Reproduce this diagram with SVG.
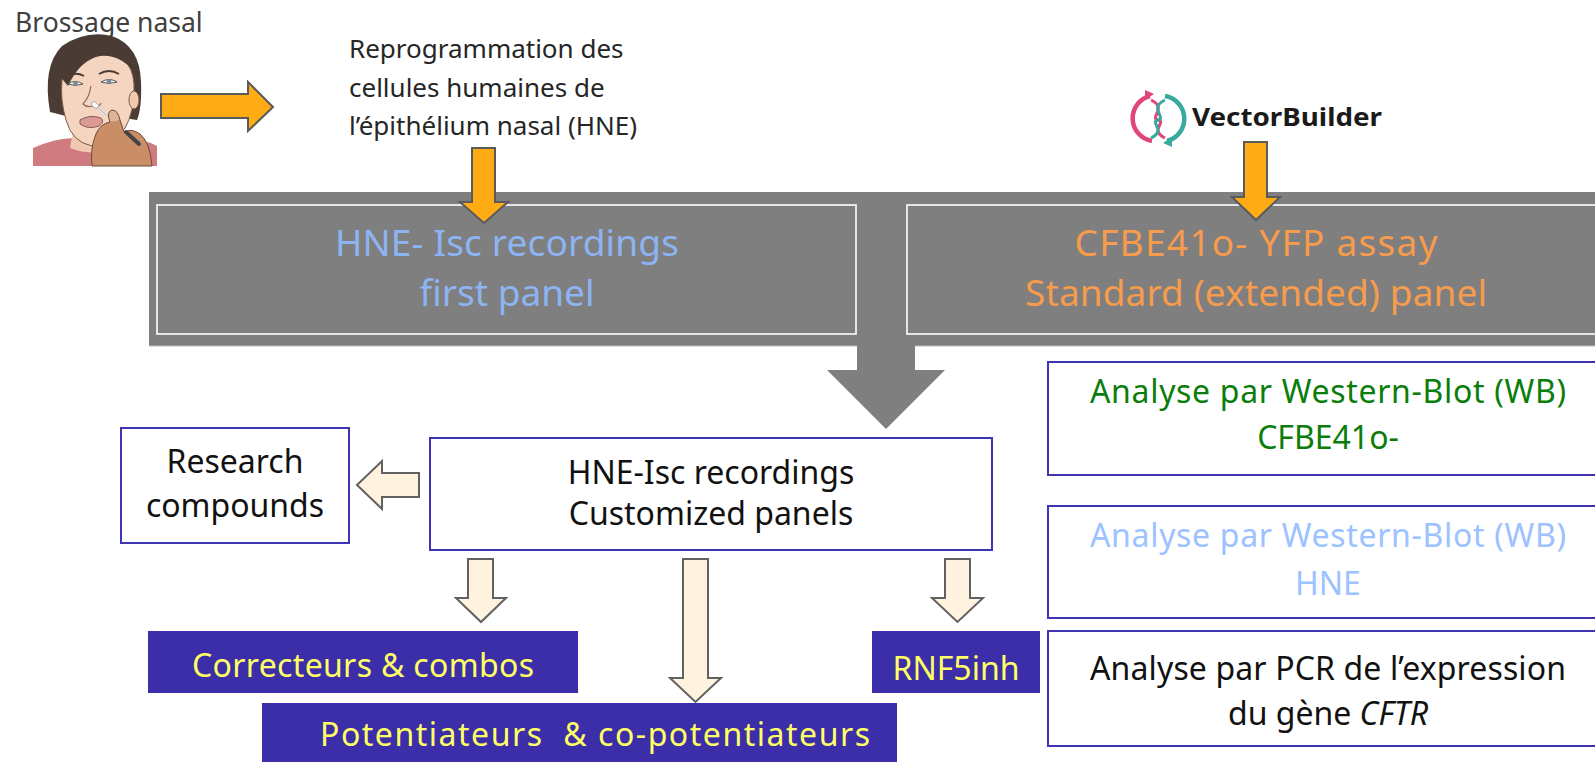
<svg xmlns="http://www.w3.org/2000/svg" width="1595" height="762" viewBox="0 0 1595 762">
  <defs>
    <style>
      text { font-family: "Noto Sans", "Open Sans", "DejaVu Sans", sans-serif; }
      .t32 { font-size: 32px; text-anchor: middle; }
      .band-label { font-size: 37px; text-anchor: middle; }
      .gold { fill: #ffab14; stroke: #5a5a5a; stroke-width: 2; stroke-linejoin: miter; }
      .cream { fill: #fff3df; stroke: #616161; stroke-width: 2; stroke-linejoin: miter; }
      .white-box { fill: #ffffff; stroke: #3f35b2; stroke-width: 2; }
      .dark-box { fill: #3c2ea8; }
      .inner { fill: none; stroke: #ffffff; stroke-width: 1.6; }
      .yellow { fill: #ffff66; }
    </style>
  </defs>

  <rect width="1595" height="762" fill="#ffffff"/>

  <!-- Nasal brushing illustration -->
  <g id="nasal-brushing">
    <text x="15" y="32" font-size="26.5" fill="#404040">Brossage nasal</text>
    <!-- hair behind the head -->
    <path d="M50,112 Q42,66 62,46 Q86,30 112,36 Q140,46 141,82 Q142,108 137,120 L124,118 L66,116 Z" fill="#4b3b35"/>
    <!-- shirt -->
    <path d="M33,148 Q56,138 74,138 L118,138 Q142,138 157,146 L157,166 L33,166 Z" fill="#cf7b80"/>
    <!-- neck -->
    <path d="M74,124 L116,124 L120,146 Q96,158 70,148 Z" fill="#f0c9b0"/>
    <!-- face -->
    <path d="M62,80 Q62,54 97,50 Q132,52 134,84 Q135,112 124,130 Q110,148 92,146 Q72,142 66,120 Q60,100 62,80 Z" fill="#f5d5c0" stroke="#7a5a4a" stroke-width="1"/>
    <!-- fringe -->
    <path d="M58,74 Q66,42 100,38 Q132,40 137,76 Q122,54 100,56 Q80,60 68,86 Z" fill="#4b3b35"/>
    <!-- ear -->
    <ellipse cx="134" cy="100" rx="5" ry="9" fill="#f0c9b0" stroke="#7a5a4a" stroke-width="1"/>
    <!-- eyes and brows -->
    <path d="M68,84 Q75,79 83,84 Q75,87 68,84 Z" fill="#ffffff" stroke="#555" stroke-width="1"/>
    <circle cx="75.5" cy="83.5" r="2.3" fill="#7a8c99"/>
    <path d="M101,82 Q109,77 117,82 Q109,85 101,82 Z" fill="#ffffff" stroke="#555" stroke-width="1"/>
    <circle cx="109" cy="81.5" r="2.3" fill="#7a8c99"/>
    <path d="M66,77 Q75,71 84,76 M99,74 Q109,68 119,74" stroke="#4b3b35" stroke-width="2" fill="none"/>
    <!-- nose -->
    <path d="M91,86 Q89,98 83,104 Q87,108 93,106 Q99,108 101,103" stroke="#8a6a58" stroke-width="1.2" fill="none"/>
    <!-- lips -->
    <path d="M80,120 Q90,114 101,118 Q105,122 99,126 Q88,130 80,124 Z" fill="#d99a94" stroke="#8a5a55" stroke-width="1"/>
    <!-- swab -->
    <line x1="95" y1="105" x2="133" y2="139" stroke="#e8e8e8" stroke-width="3"/>
    <line x1="95" y1="105" x2="133" y2="139" stroke="#888888" stroke-width="0.6"/>
    <ellipse cx="95" cy="105" rx="4" ry="2.6" fill="#ffffff" stroke="#999" stroke-width="0.8" transform="rotate(42 95 105)"/>
    <!-- hand -->
    <path d="M92,166 Q90,148 96,134 Q100,124 110,122 Q114,116 120,120 L124,132 Q132,128 140,134 Q150,142 152,166 Z" fill="#c98e66" stroke="#6b4a3a" stroke-width="1"/>
    <path d="M110,122 Q106,112 112,110 Q118,110 120,120" fill="#e0b494" stroke="#6b4a3a" stroke-width="1"/>
    <line x1="126" y1="132" x2="139" y2="144" stroke="#444444" stroke-width="4" stroke-linecap="round"/>
  </g>

  <!-- Reprogramming note -->
  <g id="reprogrammation">
    <text x="349" y="58" font-size="26" fill="#262626">Reprogrammation des</text>
    <text x="349" y="97" font-size="26" fill="#262626">cellules humaines de</text>
    <text x="349" y="135" font-size="26" fill="#262626">l’épithélium nasal (HNE)</text>
  </g>

  <!-- VectorBuilder logo -->
  <g id="vectorbuilder">
    <path d="M1150,96 A23,23 0 0 0 1152,141" fill="none" stroke="#e2457c" stroke-width="4.5"/>
    <path d="M1145,100 L1154,94 L1145,90 Z" fill="#e2457c"/>
    <path d="M1167,141 A23,23 0 0 0 1165,96" fill="none" stroke="#38a99f" stroke-width="4.5"/>
    <path d="M1172,137 L1163,143 L1172,147 Z" fill="#38a99f"/>
    <path d="M1151,100 C1168,108 1149,118 1158,120 C1167,122 1149,130 1165,138" fill="none" stroke="#e2457c" stroke-width="3"/>
    <path d="M1165,100 C1148,108 1167,118 1158,120 C1149,122 1167,130 1151,138" fill="none" stroke="#38a99f" stroke-width="3"/>
    <text x="1192" y="126" font-size="25" font-weight="bold" fill="#1a1a1a" font-family="Liberation Sans, Arial, sans-serif" textLength="190" lengthAdjust="spacingAndGlyphs">VectorBuilder</text>
  </g>

  <!-- Gray screening band with its two panels -->
  <g id="screening-band">
    <rect x="149" y="192" width="1446" height="154" fill="#7f7f7f"/>
    <line x1="149" y1="346" x2="1595" y2="346" stroke="#bdbdbd" stroke-width="1"/>
  </g>
  <g id="hne-first-panel">
    <rect class="inner" x="157" y="205" width="699" height="129"/>
    <text class="band-label" x="507" y="256" fill="#8db4f2" textLength="344">HNE- Isc recordings</text>
    <text class="band-label" x="507" y="306" fill="#8db4f2">first panel</text>
  </g>
  <g id="cfbe-standard-panel">
    <rect class="inner" x="907" y="205" width="700" height="129"/>
    <text class="band-label" x="1256" y="256" fill="#f79b4c" textLength="363">CFBE41o- YFP assay</text>
    <text class="band-label" x="1256" y="306" fill="#f79b4c" textLength="462">Standard (extended) panel</text>
  </g>

  <!-- Customized panels -->
  <g id="research-compounds">
    <rect class="white-box" x="121" y="428" width="228" height="115"/>
    <text class="t32" x="235" y="473" font-size="31" fill="#111">Research</text>
    <text class="t32" x="235" y="517" font-size="31" fill="#111">compounds</text>
  </g>
  <g id="hne-customized">
    <rect class="white-box" x="430" y="438" width="562" height="112"/>
    <text class="t32" x="711" y="484" fill="#111">HNE-Isc recordings</text>
    <text class="t32" x="711" y="525" fill="#111">Customized panels</text>
  </g>
  <g id="correcteurs">
    <rect class="dark-box" x="148" y="631" width="430" height="62"/>
    <text class="t32 yellow" x="363" y="677" textLength="342">Correcteurs &amp; combos</text>
  </g>
  <g id="potentiateurs">
    <rect class="dark-box" x="262" y="703" width="635" height="62"/>
    <text class="t32 yellow" x="595" y="746" xml:space="preserve" textLength="550">Potentiateurs  &amp; co-potentiateurs</text>
  </g>
  <g id="rnf5inh">
    <rect class="dark-box" x="872" y="631" width="168" height="62"/>
    <text class="t32 yellow" x="956" y="680">RNF5inh</text>
  </g>

  <!-- Analyses -->
  <g id="wb-cfbe">
    <rect class="white-box" x="1048" y="362" width="570" height="113"/>
    <text class="t32" x="1328" y="403" fill="#0b7d0b" textLength="476">Analyse par Western-Blot (WB)</text>
    <text class="t32" x="1328" y="449" fill="#0b7d0b">CFBE41o-</text>
  </g>
  <g id="wb-hne">
    <rect class="white-box" x="1048" y="506" width="570" height="112"/>
    <text class="t32" x="1328" y="547" fill="#9cc2ff" textLength="476">Analyse par Western-Blot (WB)</text>
    <text class="t32" x="1328" y="595" fill="#9cc2ff">HNE</text>
  </g>
  <g id="pcr-cftr">
    <rect class="white-box" x="1048" y="631" width="570" height="115"/>
    <text class="t32" x="1328" y="680" fill="#111" textLength="476">Analyse par PCR de l’expression</text>
    <text class="t32" x="1328" y="725" fill="#111">du gène <tspan font-style="italic">CFTR</tspan></text>
  </g>

  <!-- Connectors: block arrows -->
  <g id="connectors">
    <!-- orange arrows -->
    <path class="gold" d="M161,94 L248,94 L248,82 L273,107 L248,131 L248,118 L161,118 Z"/>
    <path class="gold" d="M472,148 L495,148 L495,202 L508,202 L484,223 L460,202 L472,202 Z"/>
    <path class="gold" d="M1244,142 L1267,142 L1267,197 L1280,197 L1256,220 L1232,197 L1244,197 Z"/>
    <!-- gray arrow out of the band -->
    <path d="M857,345 L915,345 L915,370 L945,370 L886,429 L827,370 L857,370 Z" fill="#7f7f7f"/>
    <!-- cream arrows -->
    <path class="cream" d="M419,473 L419,497 L382,497 L382,509 L357,485 L382,461 L382,473 Z"/>
    <path class="cream" d="M468,559 L493,559 L493,598 L506,598 L481,622 L456,598 L468,598 Z"/>
    <path class="cream" d="M683,559 L708,559 L708,678 L721,678 L695.5,702 L670,678 L683,678 Z"/>
    <path class="cream" d="M945,559 L970,559 L970,598 L983,598 L957.5,622 L932,598 L945,598 Z"/>
  </g>
</svg>
